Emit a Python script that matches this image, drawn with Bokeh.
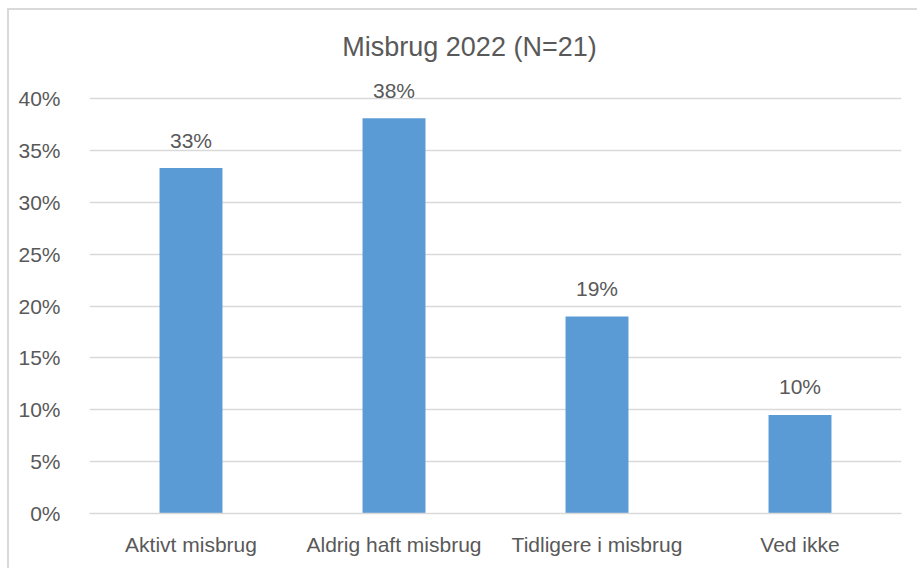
from bokeh.plotting import figure
from bokeh.models import Range1d, FactorRange, NumeralTickFormatter, FixedTicker, Label, ColumnDataSource
from bokeh.core.properties import value
from bokeh.embed import file_html
from bokeh.resources import INLINE

title_text = "Misbrug 2022 (N=21)"
categories = ["Aktivt misbrug", "Aldrig haft misbrug", "Tidligere i misbrug", "Ved ikke"]
shares = [0.333, 0.381, 0.190, 0.095]
share_labels = ["33%", "38%", "19%", "10%"]
y_ticks = [0.0, 0.05, 0.10, 0.15, 0.20, 0.25, 0.30, 0.35, 0.40]

FONT = "Liberation Sans"
TEXT = "#595959"
GRID = "#D9D9D9"
BAR = "#5B9BD5"

src = ColumnDataSource(dict(cat=categories, val=shares, lab=share_labels))

# frame spans 485 px; 0..0.40 occupies 415 px as in the reference
p = figure(width=917, height=568, output_backend="svg", toolbar_location=None,
           x_range=FactorRange(*categories, range_padding=0.0),
           y_range=Range1d(0, 0.4 * 485 / 415),
           min_border_left=89, min_border_right=16, min_border_top=28, min_border_bottom=55)
p.outline_line_color = None
p.background_fill_color = "white"
p.border_fill_color = None
# outer chart-area border: only its left and top edges fall inside the picture
p.styles = {
    "background-color": "white",
    "background-image": "linear-gradient(#D9D9D9, #D9D9D9), linear-gradient(#D9D9D9, #D9D9D9)",
    "background-size": "2px 100%, 100% 2px",
    "background-position": "7px 8px, 7px 8px",
    "background-repeat": "no-repeat",
}

p.vbar(x="cat", top="val", width=0.31, source=src, color=BAR, line_color=None)
p.text(x="cat", y="val", text="lab", source=src, text_align="center",
       text_baseline="alphabetic", y_offset=-28, text_color=TEXT,
       text_font=value(FONT), text_font_size="21px")

p.xgrid.grid_line_color = None
p.ygrid.grid_line_color = GRID
p.ygrid.grid_line_width = 1.5
p.yaxis.ticker = FixedTicker(ticks=y_ticks)
p.yaxis.formatter = NumeralTickFormatter(format="0%")
p.yaxis.axis_line_color = None
p.yaxis.major_tick_line_color = None
p.yaxis.minor_tick_line_color = None
p.yaxis.major_label_standoff = 23
p.xaxis.axis_line_color = GRID
p.xaxis.axis_line_width = 1.5
p.xaxis.major_tick_line_color = None
p.xaxis.major_label_standoff = 13
for ax in (p.xaxis, p.yaxis):
    ax.major_label_text_font = FONT
    ax.major_label_text_font_size = "21px"
    ax.major_label_text_color = TEXT

p.add_layout(Label(x=380, y=467, x_units="screen", y_units="screen", text=title_text,
                   text_align="center", text_baseline="alphabetic",
                   text_font=FONT, text_font_size="27px", text_color=TEXT))

open("out.html", "w").write(file_html(p, INLINE))
